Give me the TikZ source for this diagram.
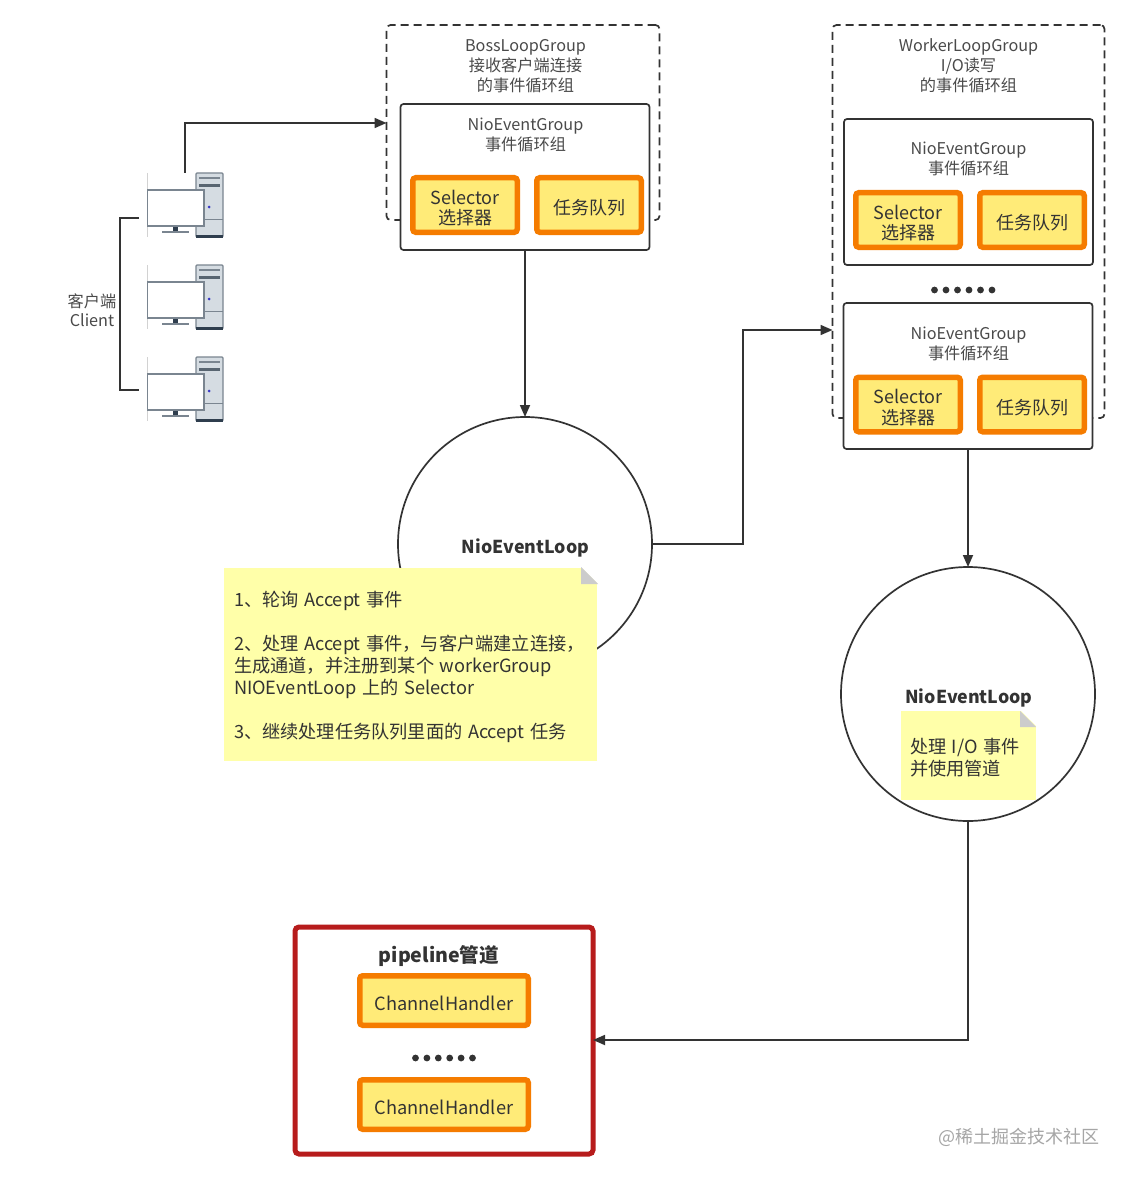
\documentclass[tikz,border=0pt]{standalone}
\usepackage{fontspec}
\setmainfont{Noto Sans CJK SC}
\newfontfamily\notefont[WordSpace=1.35]{Noto Sans CJK SC}
\usetikzlibrary{arrows.meta,positioning,calc}
\definecolor{ink}{HTML}{333333}
\definecolor{txt}{HTML}{4A4A4A}
\definecolor{orangeb}{HTML}{F57C00}
\definecolor{yellowf}{HTML}{FFEB78}
\definecolor{notef}{HTML}{FFFFA9}
\definecolor{redb}{HTML}{B71C1C}
\definecolor{towerf}{HTML}{D5DCE2}
\definecolor{towerd}{HTML}{2F3E4E}
\definecolor{monb}{HTML}{7A8590}
\newcommand{\lowered}[1]{\raisebox{-3pt}[\height][\depth]{#1}}
\newcommand{\selectorlabel}{\lowered{\shortstack{Selector\\[2.5pt]选择器}}}
\newcommand{\fwcomma}{\char"FF0C\relax}
\tikzset{
  base/.style={inner sep=0pt,outer sep=0pt,align=center,text=txt},
  sized/.style 2 args={minimum width=#1,minimum height=#2},
  dashbox/.style={base,draw=ink,line width=1.7pt,rounded corners=4pt,dash pattern=on 8pt off 5pt},
  groupbox/.style={base,draw=ink,line width=1.7pt,rounded corners=3pt,fill=white},
  yellowbox/.style={base,draw=orangeb,line width=5.5pt,rounded corners=3pt,fill=yellowf,text=ink,font=\fontsize{18}{20}\selectfont},
  title/.style={base,font=\fontsize{16.2}{20}\selectfont},
  loop/.style={base,circle,draw=ink,line width=1.7pt,fill=white,minimum size=254pt},
  loopname/.style={base,font=\fontsize{17.8}{20}\selectfont\bfseries,text=ink},
  notebox/.style={base,fill=notef,text=ink,align=left},
  notetext/.style={base,text=ink,align=left,anchor=north west,font=\notefont\fontsize{18.2}{22}\selectfont},
  conn/.style={draw=ink,line width=1.7pt,-{Triangle[length=12pt,width=10pt]}},
  plainconn/.style={draw=ink,line width=1.7pt},
  dot/.style={fill=ink,draw=none},
  pc/.style={base,minimum width=76pt,minimum height=64pt},
  pipebox/.style={base,draw=redb,line width=5pt,rounded corners=4pt,fill=white}
}
\newcommand{\drawpc}[1]{%
  \begin{scope}[shift={(#1)}]
    \draw[line width=0.6pt,draw=gray!35] (-38,-32) -- (-38,32);
    \fill[towerf,rounded corners=1pt] (11,-32) rectangle (38,32);
    \draw[line width=1.2pt,draw=monb,rounded corners=1pt] (11,-32) rectangle (38,32);
    \fill[towerd] (11,30) rectangle (38,32.5);
    \fill[monb] (14,-27.6) rectangle (35,-26.2);
    \fill[towerd!80] (14,-21) rectangle (35,-18);
    \draw[line width=0.7pt,draw=monb] (11,14) -- (38,14);
    \fill[blue!55!gray] (24,2) circle (1.5);
    \fill[towerd] (-12,21) rectangle (-7,26.5);
    \draw[line width=1.4pt,draw=monb] (-23,27) -- (4,27);
    \draw[line width=1.4pt,draw=monb,fill=white] (-37.5,-15) rectangle (19,21);
  \end{scope}}
\begin{document}
\begin{tikzpicture}[x=1pt,y=-1pt]
\useasboundingbox (0,0) rectangle (1129,1177);
\fill[white] (0,0) rectangle (1129,1177);

% clients
\node[pc] (pc1) at (185,205) {};
\node[pc] (pc2) at (185,297) {};
\node[pc] (pc3) at (185,389) {};
\drawpc{185,205}
\drawpc{185,297}
\drawpc{185,389}
\node[base,font=\fontsize{16.2}{19.5}\selectfont] (client) at (92,310) {客户端\\Client};

% boss group
\node[dashbox,sized={273pt}{195pt}] (boss) at (523,122.5) {};
\node[title,anchor=north] (bosstitle) at (525.5,39.5) {BossLoopGroup\\接收客户端连接\\的事件循环组};
\node[groupbox,sized={249pt}{146pt}] (bossgroup) at (525,177) {};
\node[title,anchor=north] (bossgrouptitle) at (525.5,118) {NioEventGroup\\事件循环组};
\node[yellowbox,sized={104.5pt}{54.5pt}] (bosssel) at (465,205) {\selectorlabel};
\node[yellowbox,sized={104.5pt}{54.5pt}] (bosstask) at (589,205) {\lowered{任务队列}};

% worker group
\node[dashbox,sized={272pt}{393pt}] (worker) at (968.5,221.5) {};
\node[title,anchor=north] (workertitle) at (968.5,39) {WorkerLoopGroup\\I/O读写\\的事件循环组};
\node[groupbox,sized={249pt}{146pt}] (wg1) at (968.5,192) {};
\node[title,anchor=north] (wg1title) at (968.5,142) {NioEventGroup\\事件循环组};
\node[yellowbox,sized={104.5pt}{54.5pt}] (wg1sel) at (908,220) {\selectorlabel};
\node[yellowbox,sized={104.5pt}{54.5pt}] (wg1task) at (1032,220) {\lowered{任务队列}};
\foreach \i in {0,...,5} \fill[dot] (934.5+\i*11.5,290) circle (3.4);
\node[groupbox,sized={249pt}{146pt}] (wg2) at (968,376) {};
\node[title,anchor=north] (wg2title) at (968.5,327) {NioEventGroup\\事件循环组};
\node[yellowbox,sized={104.5pt}{54.5pt}] (wg2sel) at (908,404.5) {\selectorlabel};
\node[yellowbox,sized={104.5pt}{54.5pt}] (wg2task) at (1032,404.5) {\lowered{任务队列}};

% loops
\node[loop] (loop1) at (525,544) {};
\node[notebox,minimum width=373pt,minimum height=193pt,anchor=north west] (note1) at (224,568) {};
\node[loopname] (loop1name) at (525.5,547.5) {NioEventLoop};
\node[notetext] (note1text) at (234,591.5) {1、轮询 Accept 事件\\[22pt]2、处理 Accept 事件\fwcomma 与客户端建立连接\fwcomma\\生成通道\fwcomma 并注册到某个 workerGroup\\NIOEventLoop 上的 Selector\\[22pt]3、继续处理任务队列里面的 Accept 任务};
\fill[white] (581,567) -- (598,567) -- (598,584) -- cycle;
\fill[gray!40] (581,567) -- (598,584) -- (581,584) -- cycle;

\node[loop] (loop2) at (968,694) {};
\node[loopname] (loop2name) at (969,698) {NioEventLoop};
\node[notebox,minimum width=135pt,minimum height=89pt,anchor=north west] (note2) at (901,711) {};
\node[notetext] (note2text) at (910,738) {处理 I/O 事件\\并使用管道};
\fill[white] (1020,710) -- (1037,710) -- (1037,727) -- cycle;
\fill[gray!40] (1020,711) -- (1036,727) -- (1020,727) -- cycle;

% pipeline
\node[pipebox,sized={298pt}{227pt}] (pipe) at (444,1040.5) {};
\node[base,font=\fontsize{19.6}{22}\selectfont\bfseries,text=ink] (pipetitle) at (439,956) {pipeline管道};
\node[yellowbox,sized={168.5pt}{49.5pt},font=\fontsize{18.2}{20}\selectfont] (h1) at (444,1000.5) {\lowered{ChannelHandler}};
\foreach \i in {0,...,5} \fill[dot] (415.5+\i*11.4,1058) circle (3.4);
\node[yellowbox,sized={168.5pt}{49.5pt},font=\fontsize{18.2}{20}\selectfont] (h2) at (444,1104.5) {\lowered{ChannelHandler}};

% watermark
\node[base,text=gray!70,font=\fontsize{18}{20}\selectfont] (mark) at (1018.5,1137) {@稀土掘金技术社区};

% connectors
\draw[conn] (pc1.north) |- (boss.west |- 0,123);
\draw[plainconn] ([xshift=-8pt]pc1.west |- 0,218) -| (120,390) -- ([xshift=-8pt]pc3.west |- 0,390);
\draw[conn] (bossgroup.south) -- (loop1.north);
\draw[conn] (loop1.east) -- (743,544) |- (worker.west |- 0,330);
\draw[conn] (wg2.south) -- (loop2.north);
\draw[conn] (loop2.south) |- (pipe.east |- 0,1040);
\end{tikzpicture}
\end{document}
